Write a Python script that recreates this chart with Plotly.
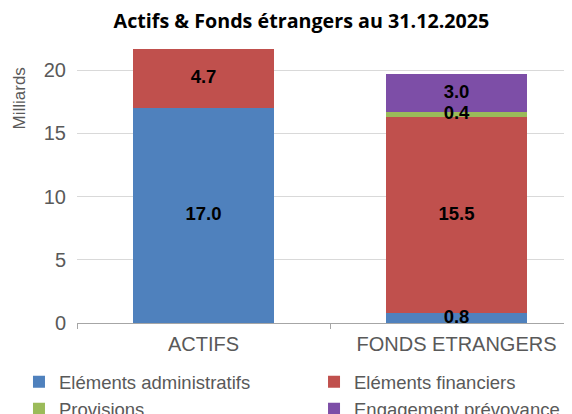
import plotly.graph_objects as go

categories = ["ACTIFS", "FONDS ETRANGERS"]
series_names = ["Eléments administratifs", "Eléments financiers", "Provisions", "Engagement prévoyance"]
admin = [17.0, 0.8]
financiers = [4.7, 15.5]
provisions = [None, 0.4]
prevoyance = [None, 3.0]
colors = ["#4F81BD", "#C0504D", "#9BBB59", "#7D4EA7"]
y_ticks = [0, 5, 10, 15, 20]
legend_of = ["legend", "legend2", "legend", "legend2"]

FONT = "Liberation Sans, Arial, sans-serif"
GREY = "#595959"

fig = go.Figure()
series = [admin, financiers, provisions, prevoyance]
for name, vals, col, lg in zip(series_names, series, colors, legend_of):
    fig.add_trace(go.Bar(
        x=categories, y=vals, name=name, legend=lg,
        marker=dict(color=col, line=dict(width=0)),
        width=0.557, hoverinfo="name+y",
    ))

# data labels drawn on top of all bars, centred in each stacked segment
lab_x, lab_y, lab_t = [], [], []
for i, cat in enumerate(categories):
    base = 0.0
    for vals in series:
        v = vals[i]
        if v is None:
            continue
        lab_x.append(cat)
        lab_y.append(base + v / 2)
        lab_t.append(f"<b>{v:.1f}</b>")
        base += v
fig.add_trace(go.Scatter(x=lab_x, y=lab_y, text=lab_t, mode="text", showlegend=False,
                         textposition="middle center", hoverinfo="skip",
                         textfont=dict(family=FONT, size=18.5, color="black")))

fig.update_layout(
    barmode="stack",
    width=572, height=414,
    margin=dict(l=69, r=0, t=37, b=99, autoexpand=False),
    paper_bgcolor="white", plot_bgcolor="white",
    title=dict(text="<b>Actifs & Fonds étrangers au 31.12.2025</b>", x=0.513, xanchor="center",
               y=0.968, yanchor="middle",
               font=dict(family="Open Sans", size=19.7, color="black")),
    font=dict(family=FONT, size=20, color=GREY),
    legend=dict(orientation="v", xref="container", yref="container", x=0.0192, y=0.142,
                xanchor="left", yanchor="top", font=dict(family=FONT, size=18.5, color=GREY),
                itemwidth=30, tracegroupgap=0, traceorder="normal", bgcolor="rgba(0,0,0,0)"),
    legend2=dict(orientation="v", xref="container", yref="container", x=0.535, y=0.142,
                 xanchor="left", yanchor="top", font=dict(family=FONT, size=18.5, color=GREY),
                 itemwidth=30, tracegroupgap=0, traceorder="normal", bgcolor="rgba(0,0,0,0)"),
    showlegend=True,
    annotations=[dict(text="Milliards", xref="paper", yref="paper", x=-0.114, y=0.925,
                      xanchor="center", yanchor="top", textangle=-90, showarrow=False,
                      font=dict(family=FONT, size=17, color=GREY))],
)
fig.update_xaxes(range=[-0.5, 1.488], showline=True, linecolor="#A6A6A6", linewidth=1,
                 tickson="boundaries", ticks="outside", ticklen=5, tickcolor="#A6A6A6",
                 tickangle=0, automargin=False, ticklabelstandoff=3,
                 tickfont=dict(family=FONT, size=20, color=GREY), showgrid=False)
fig.update_yaxes(range=[0, 22], tickvals=y_ticks, showgrid=True, gridcolor="#D9D9D9", gridwidth=1,
                 zeroline=False, showline=False, ticks="", ticklabelstandoff=10, automargin=False,
                 tickfont=dict(family=FONT, size=20, color=GREY))

fig.write_html("out.html")
